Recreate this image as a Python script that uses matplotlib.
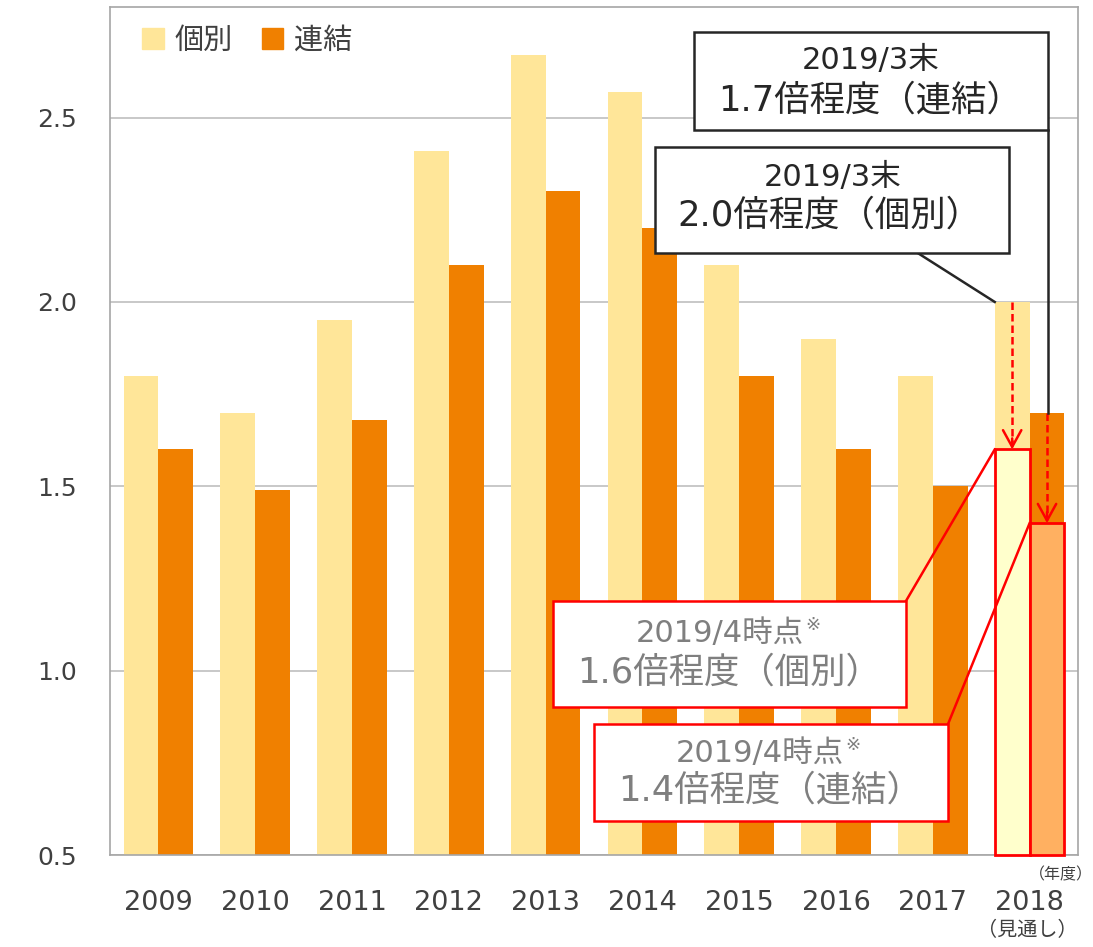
import numpy as np
import matplotlib
matplotlib.use('Agg')
import matplotlib.pyplot as plt
from matplotlib.patches import Rectangle, Patch

# Latin glyphs in DejaVu (wide, Meiryo-like), Japanese from Noto CJK
plt.rcParams['font.family'] = ['DejaVu Sans', 'Noto Sans CJK JP']

#%% data
years = ['2009', '2010', '2011', '2012', '2013', '2014', '2015', '2016', '2017', '2018']
kobetsu = [1.80, 1.70, 1.95, 2.41, 2.67, 2.57, 2.10, 1.90, 1.80, 2.00]
renketsu = [1.60, 1.49, 1.68, 2.10, 2.30, 2.20, 1.80, 1.60, 1.50, 1.70]
kobetsu_apr = 1.6   # 2019/4 revised (個別)
renketsu_apr = 1.4  # 2019/4 revised (連結)
yticks = [0.5, 1.0, 1.5, 2.0, 2.5]

c_light = '#FFE699'
c_dark = '#F08000'
c_text = '#404040'
c_gray = '#7F7F7F'

#%% figure
fig = plt.figure(figsize=(10.93, 9.47), dpi=100)
ax = fig.add_axes([110/1093, 1-855/947, 968/1093, 848/947])

x = np.arange(len(years))
w = 0.36
y0 = 0.5

ax.bar(x - w/2, kobetsu, w, color=c_light, zorder=2)
ax.bar(x + w/2, renketsu, w, color=c_dark, zorder=2)

xl = x[-1] - w/2
xr = x[-1] + w/2
ax.bar(xl, kobetsu_apr - y0, w, bottom=y0, color='#FFFFCC', edgecolor='red', lw=2, zorder=3, clip_on=False)
ax.bar(xr, renketsu_apr - y0, w, bottom=y0, color='#FFB061', edgecolor='red', lw=2, zorder=3, clip_on=False)

ax.set_xlim(-0.5, len(years) - 0.5)
ax.set_ylim(y0, 2.8)
ax.set_yticks(yticks)
ax.set_yticklabels(['%.1f' % v for v in yticks], fontsize=18, color=c_text)
ax.set_xticks(x)
ax.set_xticklabels(years, fontsize=19.5, color=c_text)
ax.tick_params(axis='y', length=0, pad=24)
ax.tick_params(axis='x', length=0, pad=25)
ax.yaxis.grid(True, color='#BFBFBF', lw=1.2)
ax.set_axisbelow(True)
for s in ax.spines.values():
    s.set_color('#A6A6A6')
    s.set_linewidth(1.2)

ax.annotate('（見通し）', xy=(x[-1], 0), xycoords=('data', 'axes fraction'),
            xytext=(-2, -75), textcoords='offset pixels', ha='center', va='center',
            fontsize=14.5, color=c_text)
fig.text(1061/1093, 1-875/947, '（年度）', fontsize=11.5, ha='center', va='center', color=c_text)

ax.legend([Patch(color=c_light), Patch(color=c_dark)], ['個別', '連結'],
          loc='upper left', bbox_to_anchor=(0.006, 1.008), ncol=2, frameon=False,
          fontsize=21, handlelength=0.75, handleheight=0.75, handletextpad=0.35,
          columnspacing=1.0, labelcolor=c_text)

#%% dashed arrows
for xa, ytop, ybot in [(xl, kobetsu[-1], kobetsu_apr), (xr, renketsu[-1], renketsu_apr)]:
    ax.plot([xa, xa], [ytop, ybot + 0.02], color='red', lw=1.8, dashes=(3, 1.6), zorder=4)
    ax.annotate('', xy=(xa, ybot), xytext=(xa, ybot + 0.03),
                arrowprops=dict(arrowstyle='->,head_length=0.6,head_width=0.33', color='red',
                                lw=1.8, shrinkA=0, shrinkB=0, mutation_scale=20), zorder=4)


def box(x0, y0_, x1, y1, ec):
    ax.add_patch(Rectangle((x0, y0_), x1 - x0, y1 - y0_, facecolor='white', edgecolor=ec,
                           lw=1.8, zorder=5, clip_on=False))


#%% call-out boxes
# 2019/3 連結
ax.plot([9.19, 9.19], [2.467, renketsu[-1]], color='#262626', lw=1.8, zorder=4)
box(5.533, 2.467, 9.19, 2.733, '#262626')
ax.text(7.36, 2.655, '2019/3末', ha='center', va='center', fontsize=22, color='#262626', zorder=6)
ax.text(7.35, 2.547, '1.7倍程度（連結）', ha='center', va='center', fontsize=25.5, color='#262626', zorder=6)

# 2019/3 個別
ax.plot([7.837, xl - w/2], [2.134, kobetsu[-1]], color='#262626', lw=1.8, zorder=4)
box(5.13, 2.134, 8.787, 2.421, '#262626')
ax.text(6.96, 2.337, '2019/3末', ha='center', va='center', fontsize=22, color='#262626', zorder=6)
ax.text(6.93, 2.233, '2.0倍程度（個別）', ha='center', va='center', fontsize=25.5, color='#262626', zorder=6)

# 2019/4 個別
ax.plot([7.723, xl - w/2], [1.189, kobetsu_apr], color='red', lw=1.8, zorder=4)
box(4.076, 0.902, 7.723, 1.189, 'red')
t = ax.text(5.80, 1.101, '2019/4時点', ha='center', va='center', fontsize=22, color=c_gray, zorder=6)
ax.annotate('※', xy=(1, 1), xycoords=t, xytext=(1, 2), textcoords='offset points',
            ha='left', va='top', fontsize=13, color=c_gray, zorder=6)
ax.text(5.9, 0.995, '1.6倍程度（個別）', ha='center', va='center', fontsize=25.5, color=c_gray, zorder=6)

# 2019/4 連結
ax.plot([8.157, xr - w/2], [0.855, renketsu_apr], color='red', lw=1.8, zorder=4)
box(4.5, 0.592, 8.157, 0.855, 'red')
t = ax.text(6.21, 0.775, '2019/4時点', ha='center', va='center', fontsize=22, color=c_gray, zorder=6)
ax.annotate('※', xy=(1, 1), xycoords=t, xytext=(1, 2), textcoords='offset points',
            ha='left', va='top', fontsize=13, color=c_gray, zorder=6)
ax.text(6.32, 0.675, '1.4倍程度（連結）', ha='center', va='center', fontsize=25.5, color=c_gray, zorder=6)

fig.savefig('out.png', dpi=100)
